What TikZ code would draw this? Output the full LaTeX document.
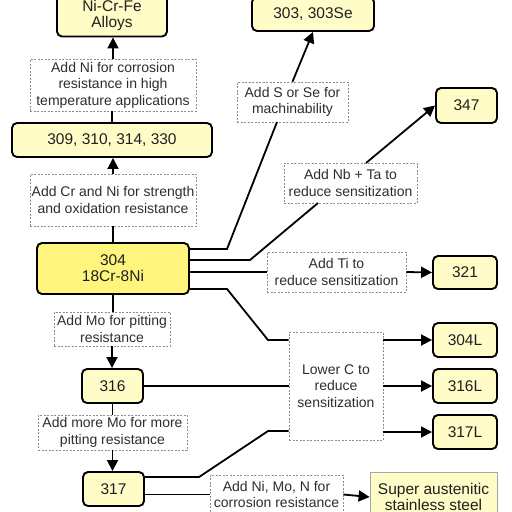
\documentclass[tikz,border=0pt]{standalone}
\usepackage{fontspec}
\setmainfont{Liberation Sans}
\usetikzlibrary{arrows.meta}
\definecolor{boxfill}{HTML}{FFFCC8}
\definecolor{mainfill}{HTML}{FFF47C}
\definecolor{dashgray}{HTML}{8C8C8C}
\begin{document}
\begin{tikzpicture}[x=1pt,y=-1pt,
  alloy/.style={draw=black, line width=1.9pt, rounded corners=5pt, fill=boxfill, align=center,
    font=\fontsize{15.5}{16}\selectfont, inner sep=0pt, text=black!88},
  note/.style={draw=dashgray, line width=0.7pt, dash pattern=on 2pt off 1.5pt, fill=white, align=center,
    font=\fontsize{14}{16.5}\selectfont, inner sep=0pt, text=black!82},
  superbox/.style={draw=gray!70, line width=0.8pt, fill=boxfill, align=center,
    font=\fontsize{15.5}{16}\selectfont, inner sep=0pt, text=black!88},
  link/.style={line width=1.8pt},
  arr/.style={link, -{Triangle[length=11pt,width=11pt]}},
]
\useasboundingbox (0,0) rectangle (512,512);
\fill[white] (0,0) rectangle (512,512);
\clip (0,0) rectangle (512,512);

% left column
\node[alloy, minimum width=110pt, minimum height=43pt] (nicrfe) at (112,15) {Ni-Cr-Fe\\Alloys};
\node[note, minimum width=166pt, minimum height=52pt] (lab1) at (113,85) {Add Ni for corrosion\\resistance in high\\temperature applications};
\node[alloy, minimum width=200pt, minimum height=34pt] (b309) at (112,140) {309, 310, 314, 330};
\node[note, minimum width=166pt, minimum height=52pt] (lab2) at (113,200) {Add Cr and Ni for strength\\and oxidation resistance};
\node[alloy, fill=mainfill, minimum width=152pt, minimum height=51pt] (b304) at (113,268.5) {304\\18Cr-8Ni};
\node[note, minimum width=116pt, minimum height=34pt] (lab3) at (112,329) {Add Mo for pitting\\resistance};
\node[alloy, minimum width=61pt, minimum height=34pt] (b316) at (112.5,386) {316};
\node[note, minimum width=149pt, minimum height=35pt] (lab4) at (112.5,432.5) {Add more Mo for more\\pitting resistance};
\node[alloy, minimum width=61pt, minimum height=34pt] (b317) at (113.5,489) {317};

% right part
\node[alloy, minimum width=122pt, minimum height=34pt] (b303) at (313,14) {303, 303Se};
\node[note, minimum width=111pt, minimum height=40pt] (lab5) at (292.5,102) {Add S or Se for\\machinability};
\node[alloy, minimum width=61pt, minimum height=35pt] (b347) at (466.5,105.5) {347};
\node[note, minimum width=133pt, minimum height=40pt] (lab6) at (350.5,183) {Add Nb + Ta to\\reduce sensitization};
\node[note, minimum width=139pt, minimum height=40pt] (lab7) at (336.5,272) {Add Ti to\\reduce sensitization};
\node[alloy, minimum width=64pt, minimum height=33pt] (b321) at (465,272.5) {321};
\node[note, minimum width=94pt, minimum height=108pt] (lab8) at (336,386) {Lower C to\\reduce\\sensitization};
\node[alloy, minimum width=64pt, minimum height=34pt] (b304L) at (465,340) {304L};
\node[alloy, minimum width=64pt, minimum height=34pt] (b316L) at (465,386) {316L};
\node[alloy, minimum width=64pt, minimum height=34pt] (b317L) at (465,432) {317L};
\node[note, minimum width=133pt, minimum height=39pt] (lab9) at (276.5,494.5) {Add Ni, Mo, N for\\corrosion resistance};
\node[superbox, minimum width=127pt, minimum height=50pt] (super) at (433.5,497) {Super austenitic\\stainless steel};

% vertical chain
\draw[arr] (lab1.north) -- (lab1.north |- nicrfe.south);
\draw[link] (b309.north) -- (b309.north |- lab1.south);
\draw[arr] (lab2.north) -- (lab2.north |- b309.south);
\draw[link] (b304.north) -- (b304.north |- lab2.south);
\draw[link] (b304.south) -- (b304.south |- lab3.north);
\draw[arr] (lab3.south) -- (lab3.south |- b316.north);
\draw[link] (b316.south) -- (b316.south |- lab4.north);
\draw[arr] (lab4.south) -- (lab4.south |- b317.north);

% branches from 304
\coordinate (k1) at (227,249);
\coordinate (e1) at (277,122);
\draw[link] (b304.east |- k1) -- (k1) -- (e1);
\draw[arr] (lab5.north) -- (b303.south);

\coordinate (k2) at (250,260);
\coordinate (e2) at (318,203);
\coordinate (a6) at (366,163);
\draw[link] (b304.east |- k2) -- (k2) -- (e2);
\draw[arr] (a6) -- (b347.west);

\draw[link] (b304.east |- lab7.west) -- (lab7.west);
\draw[arr] (lab7.east) -- (b321.west);

\coordinate (k4a) at (227,289);
\coordinate (k4b) at (268,340);
\draw[link] (b304.east |- k4a) -- (k4a) -- (k4b) -- (lab8.west |- k4b);

\draw[link] (b316.east) -- (lab8.west |- b316.east);

\coordinate (k5a) at (199,477);
\coordinate (k5b) at (268,431);
\draw[link] (b317.east |- k5a) -- (k5a) -- (k5b) -- (lab8.west |- k5b);

\draw[arr] (lab8.east |- b304L.west) -- (b304L.west);
\draw[arr] (lab8.east |- b316L.west) -- (b316L.west);
\draw[arr] (lab8.east |- b317L.west) -- (b317L.west);

\draw[link] (b317.east |- lab9.west) -- (lab9.west);
\draw[arr] (lab9.east) -- (super.west);
\end{tikzpicture}
\end{document}
